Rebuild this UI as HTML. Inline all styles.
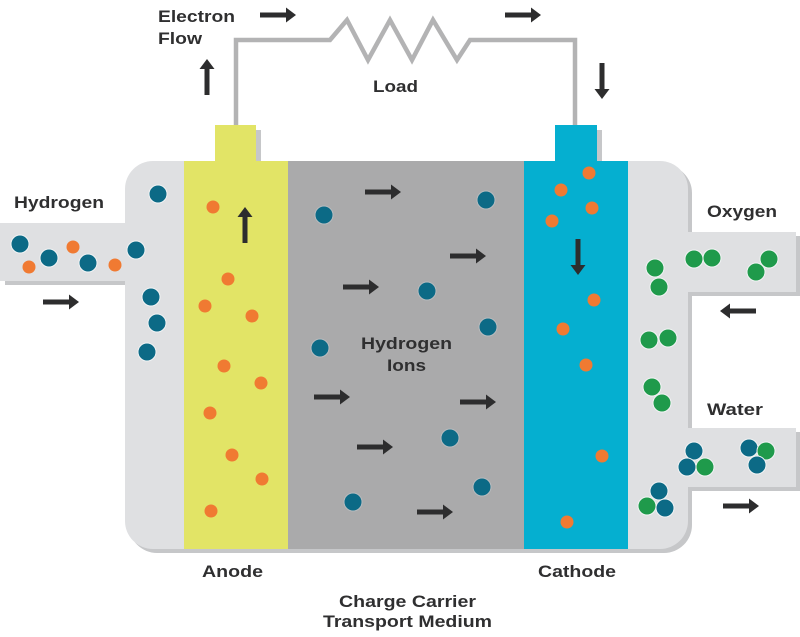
<!DOCTYPE html>
<html>
<head>
<meta charset="utf-8">
<style>
  html,body{margin:0;padding:0;background:#fff;}
  svg{display:block;}
  text{font-family:"Liberation Sans",sans-serif;font-weight:bold;font-size:17px;fill:#2f2f30;}
</style>
</head>
<body>
<svg width="800" height="637" viewBox="0 0 800 637" xmlns="http://www.w3.org/2000/svg">
  <defs>
    <polygon id="arr" points="0,-2.5 26,-2.5 26,-7.5 36,0 26,7.5 26,2.5 0,2.5" fill="#2d2d2e"/>
  </defs>

  <!-- wire -->
  <polyline points="236,126 236,40 330,40 347,20 368,60 390,20 412,60 433,20 457,60 470,40 575,40 575,126" fill="none" stroke="#b3b3b4" stroke-width="4.5" stroke-linejoin="miter"/>

  <!-- tabs -->
  <rect x="256" y="130" width="5" height="32" fill="#c6c7c9"/>
  <rect x="215" y="125" width="41" height="37" fill="#e2e466"/>
  <rect x="597" y="130" width="5" height="32" fill="#c6c7c9"/>
  <rect x="555" y="125" width="42" height="37" fill="#05afd0"/>

  <!-- shadows -->
  <rect x="129" y="165" width="563" height="388" rx="28" fill="#c6c7c9"/>
  <rect x="5" y="227" width="124" height="58" fill="#c6c7c9"/>
  <rect x="684" y="236" width="116" height="60" fill="#c6c7c9"/>
  <rect x="684" y="432" width="116" height="59" fill="#c6c7c9"/>

  <!-- container -->
  <rect x="125" y="161" width="563" height="388" rx="28" fill="#dfe0e2"/>
  <rect x="0" y="223" width="130" height="58" fill="#dfe0e2"/>
  <rect x="680" y="232" width="116" height="60" fill="#dfe0e2"/>
  <rect x="680" y="428" width="116" height="59" fill="#dfe0e2"/>

  <!-- bands -->
  <rect x="184" y="161" width="104" height="388" fill="#e2e466"/>
  <rect x="288" y="161" width="236" height="388" fill="#aaaaab"/>
  <rect x="524" y="161" width="104" height="388" fill="#05afd0"/>

  <!-- teal hydrogen molecules -->
  <g fill="#0c6a86" stroke="#f2f4f5" stroke-width="1">
    <circle cx="20" cy="244" r="9"/>
    <circle cx="49" cy="258" r="9"/>
    <circle cx="88" cy="263" r="9"/>
    <circle cx="136" cy="250" r="9"/>
    <circle cx="158" cy="194" r="9"/>
    <circle cx="151" cy="297" r="9"/>
    <circle cx="157" cy="323" r="9"/>
    <circle cx="147" cy="352" r="9"/>
  </g>
  <g fill="#0c6a86" stroke="#b8bcbf" stroke-width="1">
    <circle cx="324" cy="215" r="9"/>
    <circle cx="486" cy="200" r="9"/>
    <circle cx="427" cy="291" r="9"/>
    <circle cx="488" cy="327" r="9"/>
    <circle cx="320" cy="348" r="9"/>
    <circle cx="450" cy="438" r="9"/>
    <circle cx="482" cy="487" r="9"/>
    <circle cx="353" cy="502" r="9"/>
  </g>

  <!-- orange electrons -->
  <g fill="#f07a32">
    <circle cx="29" cy="267" r="6.5"/>
    <circle cx="73" cy="247" r="6.5"/>
    <circle cx="115" cy="265" r="6.5"/>
    <circle cx="213" cy="207" r="6.5"/>
    <circle cx="228" cy="279" r="6.5"/>
    <circle cx="205" cy="306" r="6.5"/>
    <circle cx="252" cy="316" r="6.5"/>
    <circle cx="224" cy="366" r="6.5"/>
    <circle cx="261" cy="383" r="6.5"/>
    <circle cx="210" cy="413" r="6.5"/>
    <circle cx="232" cy="455" r="6.5"/>
    <circle cx="262" cy="479" r="6.5"/>
    <circle cx="211" cy="511" r="6.5"/>
    <circle cx="589" cy="173" r="6.5"/>
    <circle cx="561" cy="190" r="6.5"/>
    <circle cx="592" cy="208" r="6.5"/>
    <circle cx="552" cy="221" r="6.5"/>
    <circle cx="594" cy="300" r="6.5"/>
    <circle cx="563" cy="329" r="6.5"/>
    <circle cx="586" cy="365" r="6.5"/>
    <circle cx="602" cy="456" r="6.5"/>
    <circle cx="567" cy="522" r="6.5"/>
  </g>

  <!-- oxygen molecules -->
  <g fill="#1f9a4b" stroke="#f2f4f5" stroke-width="1">
    <circle cx="655" cy="268" r="9"/>
    <circle cx="659" cy="287" r="9"/>
    <circle cx="694" cy="259" r="9"/>
    <circle cx="712" cy="258" r="9"/>
    <circle cx="769" cy="259" r="9"/>
    <circle cx="756" cy="272" r="9"/>
    <circle cx="649" cy="340" r="9"/>
    <circle cx="668" cy="338" r="9"/>
    <circle cx="652" cy="387" r="9"/>
    <circle cx="662" cy="403" r="9"/>
  </g>

  <!-- water molecules -->
  <g stroke="#f2f4f5" stroke-width="1">
    <circle cx="694" cy="451" r="9" fill="#0c6a86"/>
    <circle cx="687" cy="467" r="9" fill="#0c6a86"/>
    <circle cx="705" cy="467" r="9" fill="#1f9a4b"/>
    <circle cx="749" cy="448" r="9" fill="#0c6a86"/>
    <circle cx="766" cy="451" r="9" fill="#1f9a4b"/>
    <circle cx="757" cy="465" r="9" fill="#0c6a86"/>
    <circle cx="659" cy="491" r="9" fill="#0c6a86"/>
    <circle cx="647" cy="506" r="9" fill="#1f9a4b"/>
    <circle cx="665" cy="508" r="9" fill="#0c6a86"/>
  </g>

  <!-- arrows -->
  <use href="#arr" transform="translate(260,15)"/>
  <use href="#arr" transform="translate(505,15)"/>
  <use href="#arr" transform="translate(207,95) rotate(-90)"/>
  <use href="#arr" transform="translate(602,63) rotate(90)"/>
  <use href="#arr" transform="translate(43,302)"/>
  <use href="#arr" transform="translate(245,243) rotate(-90)"/>
  <use href="#arr" transform="translate(578,239) rotate(90)"/>
  <use href="#arr" transform="translate(365,192)"/>
  <use href="#arr" transform="translate(450,256)"/>
  <use href="#arr" transform="translate(343,287)"/>
  <use href="#arr" transform="translate(314,397)"/>
  <use href="#arr" transform="translate(460,402)"/>
  <use href="#arr" transform="translate(357,447)"/>
  <use href="#arr" transform="translate(417,512)"/>
  <use href="#arr" transform="translate(756,311) rotate(180)"/>
  <use href="#arr" transform="translate(723,506)"/>

  <!-- labels -->
  <text x="158" y="22" textLength="77" lengthAdjust="spacingAndGlyphs">Electron</text>
  <text x="158" y="44" textLength="44" lengthAdjust="spacingAndGlyphs">Flow</text>
  <text x="373" y="92" textLength="45" lengthAdjust="spacingAndGlyphs">Load</text>
  <text x="14" y="208" textLength="90" lengthAdjust="spacingAndGlyphs">Hydrogen</text>
  <text x="707" y="217" textLength="70" lengthAdjust="spacingAndGlyphs">Oxygen</text>
  <text x="707" y="415" textLength="56" lengthAdjust="spacingAndGlyphs">Water</text>
  <text x="361" y="349" textLength="91" lengthAdjust="spacingAndGlyphs">Hydrogen</text>
  <text x="387" y="371" textLength="39" lengthAdjust="spacingAndGlyphs">Ions</text>
  <text x="202" y="577" textLength="61" lengthAdjust="spacingAndGlyphs">Anode</text>
  <text x="538" y="577" textLength="78" lengthAdjust="spacingAndGlyphs">Cathode</text>
  <text x="339" y="607" textLength="137" lengthAdjust="spacingAndGlyphs">Charge Carrier</text>
  <text x="323" y="627" textLength="169" lengthAdjust="spacingAndGlyphs">Transport Medium</text>
</svg>
</body>
</html>
